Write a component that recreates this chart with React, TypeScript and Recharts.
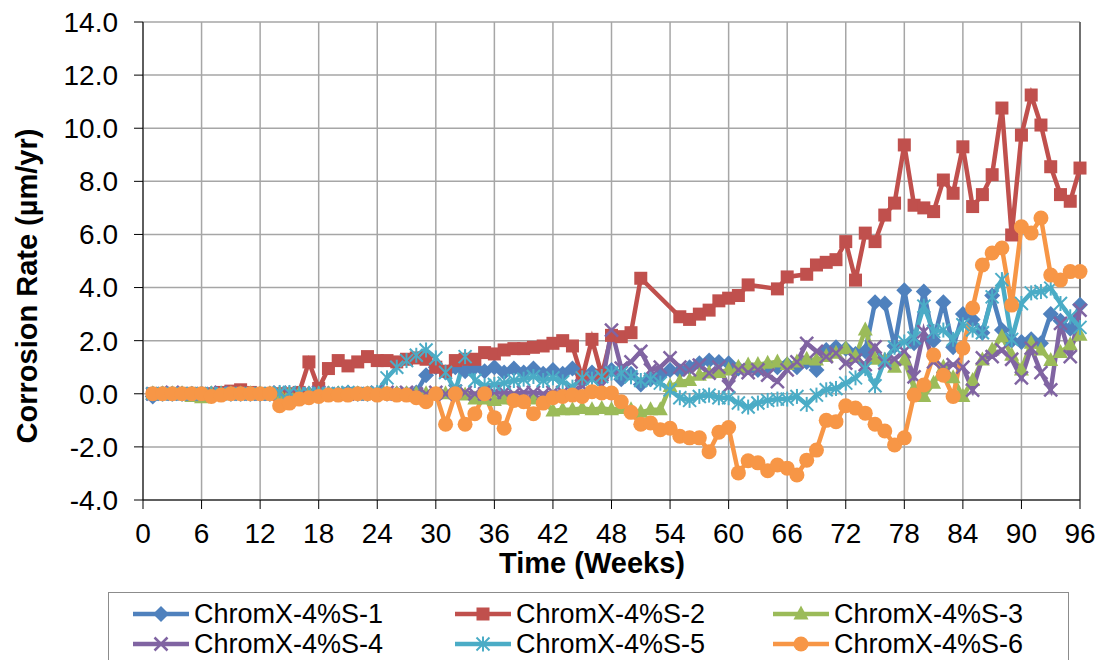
import React from "react";
import {LineChart, Line, XAxis, YAxis, CartesianGrid, ReferenceLine, Label} from "recharts";

// weeks 1..96
const weeks = [
  1, 2, 3, 4, 5, 6, 7, 8, 9, 10, 11, 12, 13, 14, 15, 16, 17, 18, 19, 20, 21, 22, 23, 24,
  25, 26, 27, 28, 29, 30, 31, 32, 33, 34, 35, 36, 37, 38, 39, 40, 41, 42, 43, 44, 45, 46, 47, 48,
  49, 50, 51, 52, 53, 54, 55, 56, 57, 58, 59, 60, 61, 62, 63, 64, 65, 66, 67, 68, 69, 70, 71, 72,
  73, 74, 75, 76, 77, 78, 79, 80, 81, 82, 83, 84, 85, 86, 87, 88, 89, 90, 91, 92, 93, 94, 95, 96,
];

const s1 = [
  -0.1, 0.0, 0.0, 0.0, 0.0, 0.0, 0.0, 0.0, 0.0, 0.0, 0.0, 0.0, 0.0, 0.0, 0.0, 0.0, 0.0, 0.0, 0.0, 0.0, 0.05, 0.0, 0.0, 0.0,
  0.0, 0.0, 0.0, 0.05, 0.7, 1.0, 0.8, 1.0, 0.85, 1.0, 0.85, 1.0, 0.8, 0.95, 0.8, 0.95, 0.75, 0.9, 0.75, 0.95, 0.5, 0.8, 0.6, 0.9,
  0.55, 0.75, 0.35, 0.55, 0.7, 0.9, 0.85, 1.0, 1.15, 1.25, 1.2, 1.15, 0.95, 1.0, 0.9, 1.05, 1.0, 1.1, 1.0, 1.2, 0.9, 1.65, 1.75, 1.7,
  1.5, 1.6, 3.45, 3.4, 1.8, 3.9, 1.9, 3.85, 2.0, 3.45, 1.75, 3.0, 2.8, 2.3, 3.7, 2.4, 2.0, 1.95, 2.05, 1.9, 3.0, 2.75, 2.45, 3.35,
];

const s2 = [
  0.0, 0.0, 0.0, 0.0, 0.0, 0.0, 0.0, 0.05, 0.1, 0.15, 0.05, 0.0, 0.0, 0.0, 0.0, 0.05, 1.2, 0.2, 0.95, 1.25, 1.05, 1.2, 1.4, 1.25,
  1.25, 1.2, 1.3, 1.35, 1.3, 1.0, 0.85, 1.25, 1.3, 1.3, 1.55, 1.5, 1.65, 1.7, 1.7, 1.75, 1.8, 1.9, 2.0, 1.8, 0.6, 2.05, 0.7, 2.2,
  2.15, 2.3, 4.35, null, null, null, 2.9, 2.8, 3.0, 3.15, 3.5, 3.6, 3.7, 4.1, null, null, 3.95, 4.4, null, 4.5, 4.85, 4.95, 5.05, 5.73,
  4.28, 6.05, 5.73, 6.73, 7.18, 9.37, 7.1, 7.0, 6.86, 8.05, 7.55, 9.3, 7.05, 7.5, 8.25, 10.76, 5.98, 9.74, 11.25, 10.12, 8.55, 7.5, 7.25, 8.5,
];

const s3 = [
  0.0, 0.0, 0.0, 0.0, -0.1, -0.15, 0.0, 0.0, 0.0, 0.0, 0.0, 0.0, 0.0, 0.0, 0.0, 0.0, 0.0, 0.0, 0.0, 0.0, 0.0, 0.0, 0.0, 0.0,
  0.0, 0.0, 0.0, 0.0, 0.0, 0.0, 0.0, 0.0, -0.05, -0.2, -0.2, -0.25, -0.2, -0.2, -0.25, -0.2, -0.25, -0.65, -0.6, -0.6, -0.55, -0.6, -0.55, -0.6,
  -0.55, -0.6, -0.7, -0.6, -0.6, 0.27, 0.45, 0.5, 0.7, 0.78, 0.8, 0.9, 1.0, 1.08, 1.1, 1.15, 1.2, 1.1, 1.2, 1.3, 1.27, 1.4, 1.53, 1.7,
  1.4, 2.4, 1.3, 1.27, 1.0, 1.27, 0.2, -0.1, 0.4, 1.0, 0.6, -0.1, 0.5, 1.27, 1.65, 2.15, 1.45, 0.9, 1.9, 1.65, 1.25, 1.55, 1.85, 2.2,
];

const s4 = [
  0.0, 0.0, 0.05, 0.0, 0.0, 0.0, 0.0, 0.05, 0.0, 0.0, 0.0, 0.0, 0.0, 0.05, 0.0, 0.0, 0.0, 0.05, 0.0, 0.0, 0.0, 0.0, 0.0, 0.05,
  0.05, 0.0, 0.05, 0.0, 0.0, 0.05, 0.0, 0.1, 0.05, 0.0, 0.0, 0.05, 0.05, 0.0, 0.05, 0.05, 0.0, 0.05, 0.05, 0.05, 0.3, 0.6, 0.3, 2.4,
  0.97, 1.2, 1.6, 0.9, 1.0, 1.35, 1.0, 0.9, 1.08, 0.78, 1.0, 0.27, 0.9, 0.8, 0.9, 0.7, 0.46, 0.9, 1.2, 1.9, 1.6, 1.4, 1.53, 1.15,
  1.27, 1.1, 1.77, 1.15, 1.3, 1.6, 0.64, 2.34, 1.2, 1.0, 1.1, 1.0, 0.14, 1.35, 1.4, 1.65, 1.3, 0.6, 1.72, 0.8, 0.15, 2.65, 1.4, 3.15,
];

const s5 = [
  0.0, 0.0, 0.0, 0.0, 0.0, 0.0, 0.0, 0.0, 0.0, 0.0, 0.0, 0.0, 0.0, 0.05, 0.05, 0.0, 0.0, 0.0, 0.0, 0.0, 0.05, 0.0, 0.0, 0.05,
  0.6, 1.0, 1.25, 1.45, 1.65, 1.35, 0.8, 0.1, 1.4, 0.5, 0.3, 0.35, 0.4, 0.5, 0.55, 0.65, 0.5, 0.6, 0.45, 0.25, 0.6, 0.55, 0.65, 0.78,
  0.78, 0.64, 0.5, 0.55, 0.4, 0.14, -0.15, -0.25, -0.1, -0.05, -0.15, -0.15, -0.35, -0.5, -0.35, -0.25, -0.2, -0.2, -0.1, -0.4, -0.05, 0.15, 0.2, 0.4,
  0.6, 0.95, 0.3, 1.27, 1.75, 1.95, 2.1, 3.3, 2.35, 2.4, 2.05, 2.6, 2.4, 2.3, 3.65, 4.3, 2.05, 3.4, 3.8, 3.85, 3.98, 3.4, 2.9, 2.5,
];

const s6 = [
  0.0, 0.0, 0.0, 0.0, 0.0, 0.0, -0.1, -0.05, 0.0, 0.0, 0.0, 0.0, 0.0, -0.45, -0.35, -0.2, -0.15, -0.1, -0.05, -0.05, -0.05, 0.0, 0.0, -0.05,
  0.0, -0.05, -0.05, -0.15, -0.3, 0.0, -1.15, 0.0, -1.15, -0.75, 0.0, -0.9, -1.3, -0.25, -0.3, -0.75, -0.35, -0.15, -0.1, -0.05, -0.1, 0.08, 0.03, 0.03,
  -0.3, -0.7, -1.15, -1.1, -1.35, -1.3, -1.6, -1.66, -1.66, -2.18, -1.45, -1.27, -2.98, -2.52, -2.6, -2.9, -2.68, -2.8, -3.06, -2.5, -2.12, -1.0, -1.05, -0.45,
  -0.54, -0.73, -1.15, -1.4, -1.93, -1.66, -0.05, 0.33, 1.46, 0.7, -0.1, 1.72, 3.23, 4.85, 5.3, 5.49, 3.34, 6.29, 6.05, 6.62, 4.47, 4.28, 4.6, 4.6,
];

const seriesNames = ["ChromX-4%S-1", "ChromX-4%S-2", "ChromX-4%S-3", "ChromX-4%S-4", "ChromX-4%S-5", "ChromX-4%S-6"];
const seriesKeys = ["s1", "s2", "s3", "s4", "s5", "s6"];
const seriesColors = ["#4F81BD", "#C0504D", "#9BBB59", "#8064A2", "#4BACC6", "#F79646"];
const seriesShapes = ["diamond", "square", "triangle", "cross", "star", "circle"];

const xTicks = [0, 6, 12, 18, 24, 30, 36, 42, 48, 54, 60, 66, 72, 78, 84, 90, 96];
const yTicks = [-4, -2, 0, 2, 4, 6, 8, 10, 12, 14];

const data = weeks.map((w, i) => ({
  week: w,
  s1: s1[i],
  s2: s2[i],
  s3: s3[i],
  s4: s4[i],
  s5: s5[i],
  s6: s6[i],
}));

const FONT = "'Liberation Sans', Arial, sans-serif";

function Marker({shape, cx, cy, color}: {shape: string; cx: number; cy: number; color: string}) {
  switch (shape) {
    case "diamond":
      return <polygon points={`${cx},${cy - 8} ${cx + 8},${cy} ${cx},${cy + 8} ${cx - 8},${cy}`} fill={color} />;
    case "square":
      return <rect x={cx - 6.5} y={cy - 6.5} width={13} height={13} fill={color} />;
    case "triangle":
      return <polygon points={`${cx},${cy - 8.5} ${cx + 7.5},${cy + 5.5} ${cx - 7.5},${cy + 5.5}`} fill={color} />;
    case "cross":
      return (
        <g stroke={color} strokeWidth={2.5}>
          <line x1={cx - 6.5} y1={cy - 6.5} x2={cx + 6.5} y2={cy + 6.5} />
          <line x1={cx - 6.5} y1={cy + 6.5} x2={cx + 6.5} y2={cy - 6.5} />
        </g>
      );
    case "star":
      return (
        <g stroke={color} strokeWidth={2}>
          <line x1={cx - 6.5} y1={cy - 6.5} x2={cx + 6.5} y2={cy + 6.5} />
          <line x1={cx - 6.5} y1={cy + 6.5} x2={cx + 6.5} y2={cy - 6.5} />
          <line x1={cx} y1={cy - 7.5} x2={cx} y2={cy + 7.5} />
        </g>
      );
    default:
      return <circle cx={cx} cy={cy} r={7.5} fill={color} />;
  }
}

function makeDot(shape: string, color: string) {
  return (props: any) => {
    const {cx, cy, index, value} = props;
    if (value == null || cx == null || cy == null) return <g key={`e-${index}`} />;
    return (
      <g key={`d-${index}`}>
        <Marker shape={shape} cx={cx} cy={cy} color={color} />
      </g>
    );
  };
}

function LegendIcon({shape, color}: {shape: string; color: string}) {
  return (
    <svg width={58} height={20} style={{display: "block"}}>
      <line x1={1} y1={10} x2={57} y2={10} stroke={color} strokeWidth={4.5} />
      <Marker shape={shape} cx={29} cy={10} color={color} />
    </svg>
  );
}

function ChartLegend() {
  const cols = [132, 454, 772];
  return (
    <div
      style={{
        position: "absolute",
        left: 108,
        top: 592,
        width: 961,
        height: 80,
        border: "1px solid #8c8c8c",
        boxSizing: "border-box",
        background: "#fff",
      }}
    >
      {seriesNames.map((name, i) => {
        const col = i % 3;
        const row = Math.floor(i / 3);
        return (
          <div
            key={name}
            style={{
              position: "absolute",
              left: cols[col] - 109,
              top: 6 + row * 30,
              height: 30,
              display: "flex",
              alignItems: "center",
              fontFamily: FONT,
              fontSize: 27,
              color: "#000",
              whiteSpace: "nowrap",
            }}
          >
            <LegendIcon shape={seriesShapes[i]} color={seriesColors[i]} />
            <span style={{marginLeft: 4}}>{name}</span>
          </div>
        );
      })}
    </div>
  );
}

export default function App() {
  return (
    <div style={{position: "relative", width: 1102, height: 660, overflow: "hidden", background: "#fff"}}>
      <style>{`body{margin:0;}`}</style>
      <LineChart width={1102} height={660} data={data} margin={{top: 22, right: 22, left: 0, bottom: 120}}>
        <CartesianGrid stroke="#a6a6a6" strokeWidth={1.5} />
        <XAxis
          dataKey="week"
          type="number"
          domain={[0, 96]}
          ticks={xTicks}
          interval={0}
          height={40}
          tickSize={9}
          tickMargin={14}
          stroke="#000"
          tick={{fill: "#000", fontSize: 28, fontFamily: FONT}}
        >
          <Label
            content={() => (
              <text x={592} y={573} textAnchor="middle" fontFamily={FONT} fontSize={29} fontWeight="bold" fill="#000">
                Time (Weeks)
              </text>
            )}
          />
        </XAxis>
        <YAxis
          type="number"
          domain={[-4, 14]}
          ticks={yTicks}
          interval={0}
          width={143}
          tickSize={9}
          tickMargin={16}
          stroke="#000"
          tickFormatter={(v: number) => v.toFixed(1)}
          tick={{fill: "#000", fontSize: 28, fontFamily: FONT}}
        >
          <Label
            content={() => (
              <text
                x={27}
                y={286}
                transform="rotate(-90 27 286)"
                textAnchor="middle"
                dominantBaseline="central"
                fontFamily={FONT}
                fontSize={29}
                fontWeight="bold"
                fill="#000"
              >
                Corrosion Rate (µm/yr)
              </text>
            )}
          />
        </YAxis>
        <ReferenceLine x={96} stroke="#595959" strokeWidth={1.5} />
        {seriesKeys.map((k, i) => (
          <Line
            key={k}
            type="linear"
            dataKey={k}
            name={seriesNames[i]}
            stroke={seriesColors[i]}
            strokeWidth={4.5}
            connectNulls
            dot={makeDot(seriesShapes[i], seriesColors[i])}
            activeDot={false}
            isAnimationActive={false}
          />
        ))}
      </LineChart>
      <ChartLegend />
    </div>
  );
}
